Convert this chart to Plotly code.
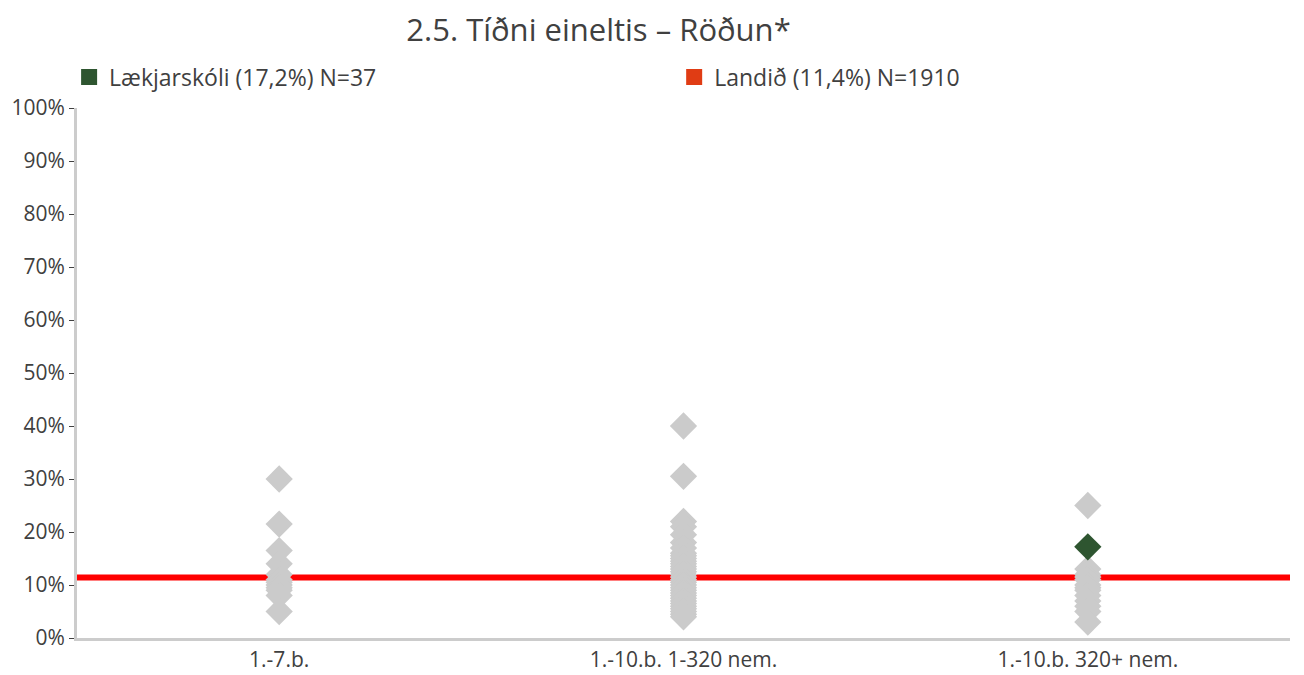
import plotly.graph_objects as go

categories = ["1.-7.b.", "1.-10.b. 1-320 nem.", "1.-10.b. 320+ nem."]

# other schools' values (percent) per category
others_cat1 = [30.0, 21.5, 16.5, 14.0, 12.0, 11.0, 10.5, 10.0, 9.5, 9.0, 8.0, 5.0]
others_cat2 = [40.0, 30.5, 22.0, 21.0, 19.5, 18.0, 17.0, 16.0, 15.5, 15.0, 14.5, 14.0,
               13.5, 13.0, 12.5, 12.0, 11.5, 11.0, 10.5, 10.0, 9.5, 9.0, 8.5, 8.0,
               7.5, 7.0, 6.5, 6.0, 5.5, 5.0, 4.5, 4.0]
others_cat3 = [25.0, 13.0, 12.0, 11.5, 11.0, 10.0, 9.5, 9.0, 8.0, 7.0, 6.0, 5.0, 3.0]

school_name = "Lækjarskóli (17,2%) N=37"
school_category = "1.-10.b. 320+ nem."
school_value = 17.2

national_name = "Landið (11,4%) N=1910"
national_value = 11.4

y_ticks = [0, 10, 20, 30, 40, 50, 60, 70, 80, 90, 100]
y_tick_labels = [f"{v}%" for v in y_ticks]

FONT = "Open Sans"
TXT = "#404040"
GREY = "#CBCBCB"
GREEN = "#2E5530"
RED_LEG = "#E03C14"

gx = ([categories[0]] * len(others_cat1) + [categories[1]] * len(others_cat2)
      + [categories[2]] * len(others_cat3))
gy = others_cat1 + others_cat2 + others_cat3

fig = go.Figure()
fig.add_trace(go.Scatter(
    x=gx, y=gy, mode="markers", showlegend=False,
    marker=dict(symbol="diamond", size=21, color=GREY, line=dict(width=0)),
    hoverinfo="skip"))
fig.add_trace(go.Scatter(
    x=[school_category], y=[school_value], mode="markers", showlegend=False,
    marker=dict(symbol="diamond", size=21, color=GREEN, line=dict(width=0))))
# legend entries (square keys)
fig.add_trace(go.Scatter(
    x=[None], y=[None], mode="markers", name=school_name, legend="legend",
    marker=dict(symbol="square", size=18, color=GREEN)))
fig.add_trace(go.Scatter(
    x=[None], y=[None], mode="markers", name=national_name, legend="legend2",
    marker=dict(symbol="square", size=18, color=RED_LEG)))

fig.add_shape(type="line", xref="paper", yref="y", x0=0, x1=1,
              y0=national_value, y1=national_value,
              line=dict(color="#FF0000", width=6), layer="below")

leg_common = dict(orientation="h", xref="container", yref="container",
                  xanchor="left", yanchor="middle", itemsizing="trace",
                  itemwidth=30, bgcolor="rgba(0,0,0,0)",
                  font=dict(family=FONT, size=23, color=TXT))

fig.update_layout(
    width=1304, height=675,
    paper_bgcolor="white", plot_bgcolor="white",
    margin=dict(l=77, r=14, t=108, b=37, autoexpand=False),
    font=dict(family=FONT, color=TXT, size=20),
    title=dict(text="2.5. Tíðni eineltis – Röðun*", x=0.459, xref="container",
               xanchor="center", y=0.956, yanchor="middle",
               font=dict(family=FONT, size=31, color=TXT)),
    legend=dict(x=0.053, y=0.886, **leg_common),
    legend2=dict(x=0.517, y=0.886, **leg_common),
    xaxis=dict(type="category", categoryorder="array", categoryarray=categories,
               range=[-0.5, 2.5], showgrid=False, zeroline=False,
               showline=True, linecolor="#CCCCCC", linewidth=3,
               ticks="", ticklabelstandoff=1,
               tickfont=dict(family=FONT, size=21, color=TXT)),
    yaxis=dict(range=[0, 100], tickvals=y_ticks, ticktext=y_tick_labels,
               showgrid=False, zeroline=False, showline=True,
               linecolor="#CCCCCC", linewidth=3, ticks="outside", ticklen=5,
               tickcolor=TXT, tickwidth=1,
               tickfont=dict(family=FONT, size=21, color=TXT)),
)

fig.write_html(
    "out.html",
    config={"displayModeBar": False},
    post_script="document.body.style.margin='0';document.body.style.overflow='hidden';",
)
